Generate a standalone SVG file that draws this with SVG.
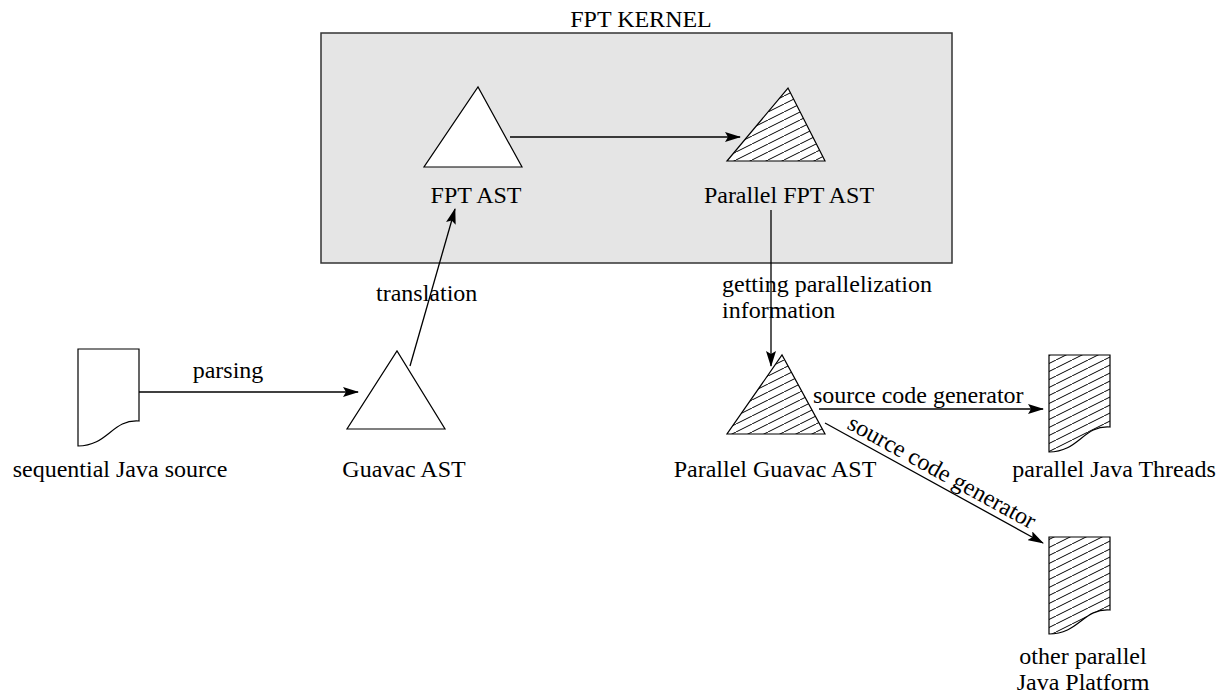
<svg xmlns="http://www.w3.org/2000/svg" width="1221" height="696" viewBox="0 0 1221 696">
<style>
text{font-family:"Liberation Serif","Times New Roman",serif;font-size:24px;fill:#000}
.sh{stroke:#000;stroke-width:1.2;fill:#fff}
.ht{stroke:#000;stroke-width:1.2;fill:url(#hatch)}
.ln{stroke:#000;stroke-width:1.3;fill:none;marker-end:url(#ah)}
</style>
<defs>
<pattern id="hatch" patternUnits="userSpaceOnUse" width="16" height="8">
<rect width="16" height="8" fill="#fff"/>
<line x1="0" y1="8" x2="16" y2="0" stroke="#000" stroke-width="1"/>
</pattern>
<marker id="ah" markerWidth="16" markerHeight="10" refX="15" refY="5" orient="auto" markerUnits="userSpaceOnUse">
<path d="M0,0 L16,5 L0,10 L3,5 z" fill="#000"/>
</marker>
</defs>
<g id="kernel">
<rect x="321" y="33" width="631" height="230" fill="#e5e5e5" stroke="#333" stroke-width="1.5"/>
<text x="641" y="27" text-anchor="middle">FPT KERNEL</text>
</g>
<g id="fpt-ast">
<polygon class="sh" points="424,167 522,167 478,87"/>
<text x="476" y="203" text-anchor="middle">FPT AST</text>
</g>
<g id="par-fpt-ast">
<polygon class="ht" points="727,161 825,161 788,88"/>
<text x="789" y="203" text-anchor="middle">Parallel FPT AST</text>
</g>
<g id="seq-src">
<path class="sh" d="M78,349 L139,349 L139,421 C112,419 108,446 78,446 Z"/>
<text x="120" y="477" text-anchor="middle">sequential Java source</text>
</g>
<g id="guavac-ast">
<polygon class="sh" points="347,429 445,429 397,351"/>
<text x="404" y="477" text-anchor="middle">Guavac AST</text>
</g>
<g id="par-guavac-ast">
<polygon class="ht" points="727,434 825,434 782,355"/>
<text x="775" y="477" text-anchor="middle">Parallel Guavac AST</text>
</g>
<g id="par-threads">
<path class="ht" d="M1049,355 L1110,355 L1110,427 C1083,425 1079,452 1049,452 Z"/>
<text x="1114" y="477" text-anchor="middle">parallel Java Threads</text>
</g>
<g id="other-platform">
<path class="ht" d="M1049,537 L1110,537 L1110,610 C1083,608 1079,634 1049,634 Z"/>
<text x="1083" y="664" text-anchor="middle">other parallel</text>
<text x="1083" y="690" text-anchor="middle">Java Platform</text>
</g>
<g id="connectors">
<line class="ln" x1="510" y1="137" x2="740" y2="137"/>
<line class="ln" x1="139" y1="392" x2="358" y2="392"/>
<line class="ln" x1="410" y1="366" x2="455" y2="209"/>
<line class="ln" x1="771" y1="210" x2="771" y2="366"/>
<line class="ln" x1="819" y1="409" x2="1043" y2="409"/>
<line class="ln" x1="825" y1="423" x2="1043" y2="543"/>
<text x="228" y="378" text-anchor="middle">parsing</text>
<text x="376" y="301">translation</text>
<text x="722" y="292">getting parallelization</text>
<text x="722" y="318">information</text>
<text x="813" y="403">source code generator</text>
<text transform="translate(846,428) rotate(28.8)">source code generator</text>
</g>
</svg>
